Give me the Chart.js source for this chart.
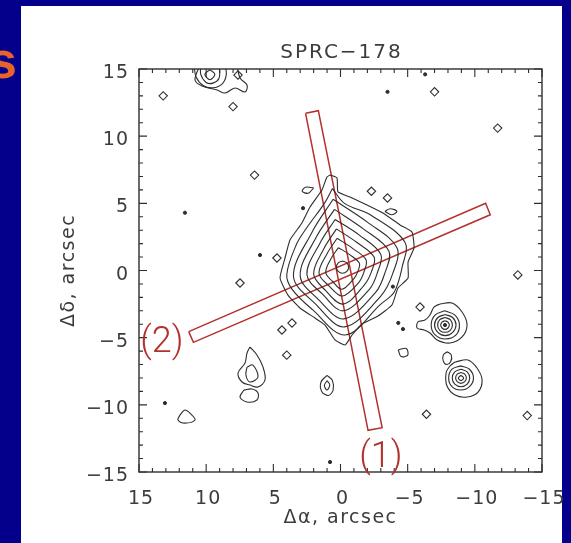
<!DOCTYPE html>
<html>
<head>
<meta charset="utf-8">
<script src="https://cdn.jsdelivr.net/npm/chart.js@4.4.0/dist/chart.umd.min.js"></script>
<style>
  html, body { margin: 0; padding: 0; width: 571px; height: 543px; overflow: hidden; background: #04008c; }
  canvas { position: absolute; left: 0; top: 0; }
</style>
</head>
<body>
<canvas id="c" width="571" height="543"></canvas>
<script>
// ticks des deux axes (arcsec)
const xTicks = [15, 10, 5, 0, -5, -10, -15];
const yTicks = [15, 10, 5, 0, -5, -10, -15];
const tickLabels = ['15', '10', '5', '0', '\u22125', '\u221210', '\u221215'];

// isophotes de la galaxie principale (Δα, Δδ), de l'extérieur vers le centre
const galaxy1 = [[0.78,7.11],[0.26,6.89],[0.19,5.85],[-0.71,5.47],[-1.97,4.88],[-3.16,4.28],[-4.43,3.39],[-5.32,2.87],[-5.47,1.68],[-5.03,0.63],[-5.03,-0.56],[-4.28,-1.30],[-3.83,-2.57],[-2.79,-3.39],[-1.60,-3.98],[-0.86,-4.80],[-0.34,-5.55],[0.41,-5.17],[1.15,-4.06],[1.90,-3.54],[3.02,-2.79],[3.91,-1.83],[4.50,-0.56],[4.13,0.93],[3.76,2.27],[2.87,3.54],[2.27,4.73],[1.38,5.99],[1.01,6.96],[0.78,7.11]];
const galaxy2 = [[0.6,6.1],[-0.3,5.0],[-2.3,4.1],[-4.8,2.1],[-4.6,0.3],[-4.0,-1.6],[-3.0,-2.5],[-0.35,-4.8],[2.1,-2.9],[3.6,-1.4],[4.0,-0.3],[3.3,1.9],[2.5,3.2],[1.2,5.0],[0.6,6.1]];
const galaxy3 = [[0.55,5.3],[-2.0,3.6],[-4.2,1.7],[-3.9,-0.2],[-3.0,-1.9],[-0.3,-4.2],[1.85,-2.5],[3.5,-0.45],[2.15,2.8],[0.55,5.3]];
const galaxy4 = [[0.45,4.55],[-1.7,3.1],[-3.6,1.45],[-3.3,-0.2],[-2.6,-1.65],[-0.25,-3.6],[1.6,-2.2],[3.0,-0.4],[1.85,2.4],[0.45,4.55]];
const galaxy5 = [[0.4,3.8],[-1.45,2.6],[-3.0,1.2],[-2.75,-0.15],[-2.15,-1.4],[-0.2,-3.0],[1.3,-1.8],[2.5,-0.3],[1.55,2.0],[0.4,3.8]];
const galaxy6 = [[0.3,3.1],[-1.2,2.1],[-2.5,1.0],[-2.3,-0.1],[-1.75,-1.1],[-0.2,-2.5],[1.1,-1.5],[2.0,-0.25],[1.25,1.6],[0.3,3.1]];
const galaxy7 = [[0.25,2.4],[-0.9,1.65],[-1.9,0.8],[-1.75,-0.1],[-1.35,-0.9],[-0.15,-1.9],[0.85,-1.15],[1.6,-0.2],[1.0,1.25],[0.25,2.4]];
const galaxy8 = [[0.15,1.7],[-0.65,1.2],[-1.4,0.55],[-1.3,-0.05],[-1.0,-0.6],[-0.1,-1.4],[0.6,-0.8],[1.1,-0.15],[0.7,0.9],[0.15,1.7]];
const galaxyCore = [[-0.15,0.7],[-0.47,0.57],[-0.6,0.25],[-0.47,-0.07],[-0.15,-0.2],[0.17,-0.07],[0.3,0.25],[0.17,0.57],[-0.15,0.7]];
const galaxyKnot = [[2.0,6.15],[2.6,6.2],[2.85,5.9],[2.4,5.75],[2.0,6.15]];

// compagnon A (Δα≈-7.8, Δδ≈-4.1)
const compA1 = [[-7.41,-2.49],[-8.30,-2.42],[-9.05,-3.09],[-9.42,-4.06],[-9.05,-4.95],[-8.15,-5.40],[-7.19,-5.17],[-6.66,-4.65],[-6.22,-4.43],[-5.70,-4.28],[-5.77,-3.83],[-6.29,-3.69],[-6.66,-3.31],[-6.96,-2.72],[-7.41,-2.49]];
const compA2 = [[-7.75,-3.0],[-8.5,-3.3],[-8.85,-4.0],[-8.6,-4.8],[-7.8,-5.1],[-7.05,-4.8],[-6.75,-4.05],[-7.05,-3.3],[-7.75,-3.0]];
const compA3 = [[-7.8,-3.28],[-8.35,-3.5],[-8.6,-4.05],[-8.35,-4.6],[-7.8,-4.85],[-7.25,-4.6],[-7.0,-4.05],[-7.25,-3.5],[-7.8,-3.28]];
const compA4 = [[-7.78,-3.5],[-8.17,-3.66],[-8.33,-4.06],[-8.17,-4.45],[-7.78,-4.6],[-7.39,-4.45],[-7.23,-4.06],[-7.39,-3.66],[-7.78,-3.5]];
const compA5 = [[-7.78,-3.74],[-8.0,-3.84],[-8.1,-4.06],[-8.0,-4.28],[-7.78,-4.38],[-7.56,-4.28],[-7.46,-4.06],[-7.56,-3.84],[-7.78,-3.74]];

// compagnon B (Δα≈-9.0, Δδ≈-8.0)
const compB1 = [[-8.53,-6.81],[-9.49,-6.66],[-10.16,-7.26],[-10.54,-8.15],[-10.24,-9.05],[-9.42,-9.42],[-8.53,-9.27],[-7.93,-8.60],[-7.86,-7.63],[-8.15,-7.11],[-8.53,-6.81]];
const compB2 = [[-8.95,-7.1],[-9.6,-7.35],[-9.9,-8.0],[-9.6,-8.65],[-8.95,-8.9],[-8.3,-8.65],[-8.05,-8.0],[-8.3,-7.35],[-8.95,-7.1]];
const compB3 = [[-8.97,-7.35],[-9.43,-7.54],[-9.62,-8.0],[-9.43,-8.46],[-8.97,-8.65],[-8.51,-8.46],[-8.32,-8.0],[-8.51,-7.54],[-8.97,-7.35]];
const compB4 = [[-8.97,-7.6],[-9.25,-7.72],[-9.37,-8.0],[-9.25,-8.28],[-8.97,-8.4],[-8.69,-8.28],[-8.57,-8.0],[-8.69,-7.72],[-8.97,-7.6]];
const compB5 = [[-8.97,-7.8],[-9.17,-8.0],[-8.97,-8.2],[-8.77,-8.0],[-8.97,-7.8]];
const compBTear = [[-7.95,-6.05],[-8.25,-6.3],[-8.2,-6.8],[-7.9,-7.0],[-7.65,-6.75],[-7.65,-6.3],[-7.95,-6.05]];

// source coupée par le bord supérieur
const topBlob1 = [[10.46,15.3],[10.83,14.18],[10.31,13.74],[9.19,13.44],[8.60,13.21],[7.85,13.59],[7.11,13.29],[6.96,13.81],[7.48,14.33],[7.71,15.3]];
const topBlob2 = [[10.9,15.3],[10.75,14.4],[10.2,13.75],[9.5,13.6],[8.8,13.9],[8.5,14.6],[8.6,15.3]];
const topBlob3 = [[10.4,15.3],[10.4,14.6],[10.0,14.0],[9.5,13.95],[9.05,14.3],[9.0,15.0],[9.1,15.3]];
const topBlob4 = [[9.72,14.95],[10.1,14.6],[9.72,14.2],[9.35,14.6],[9.72,14.95]];

// petites sources isolées
const blobC1 = [[6.74,-5.70],[6.22,-6.29],[5.77,-7.18],[5.62,-8.15],[6.14,-8.67],[6.74,-8.53],[7.33,-8.30],[7.63,-7.63],[7.11,-6.89],[6.96,-6.14],[6.74,-5.70]];
const blobC2 = [[6.96,-7.18],[6.52,-7.04],[6.14,-7.93],[6.74,-8.30],[7.04,-7.78],[6.96,-7.18]];
const blobC3 = [[7.19,-8.90],[6.59,-8.82],[6.14,-9.12],[6.22,-9.64],[6.96,-9.79],[7.48,-9.42],[7.19,-8.90]];
const blobD = [[11.95,-10.76],[11.58,-10.39],[11.06,-10.76],[10.83,-11.13],[11.58,-11.36],[12.10,-11.13],[11.95,-10.76]];
const blobE1 = [[1.0,-7.8],[0.6,-8.2],[0.55,-8.9],[0.9,-9.3],[1.4,-9.0],[1.45,-8.3],[1.0,-7.8]];
const blobE2 = [[1.0,-8.2],[0.8,-8.5],[1.0,-8.9],[1.2,-8.55],[1.0,-8.2]];
const blobF = [[-4.3,-5.9],[-4.9,-5.8],[-5.0,-6.3],[-4.5,-6.4],[-4.3,-5.9]];
const blobG = [[-3.3,4.4],[-3.7,4.6],[-4.2,4.4],[-3.8,4.15],[-3.3,4.4]];

const diamonds = [[13.2,13.0],[8.0,12.2],[7.63,14.55],[-7.0,13.3],[-11.7,10.6],[6.4,7.1],[-2.3,5.9],[-3.5,5.4],[4.73,0.93],[-5.92,-2.72],[3.61,-3.91],[4.36,-4.43],[7.48,-0.93],[-13.2,-0.33],[-6.4,-10.7],[-13.9,-10.8],[4.0,-6.3]];
const dots = [[-3.5,13.3],[-6.3,14.6],[2.79,4.64],[5.99,1.15],[-3.9,-1.2],[-4.3,-3.9],[-4.65,-4.36],[13.07,-9.87],[11.58,4.3],[0.78,-14.26],[-7.78,-4.06]];

// fentes (coins)
const slit1 = [[2.6,11.7],[1.65,11.9],[-3.1,-11.7],[-2.05,-11.9],[2.6,11.7]];
const slit2 = [[11.3,-4.55],[-10.8,5.0],[-11.15,4.15],[10.95,-5.35],[11.3,-4.55]];
const slitLabels = [['(1)', -3.0, -13.97], ['(2)', 13.29, -5.4]];

const contours = [galaxy1, galaxy2, galaxy3, galaxy4, galaxy5, galaxy6, galaxy7, galaxy8, galaxyCore, galaxyKnot,
  compA1, compA2, compA3, compA4, compA5, compB1, compB2, compB3, compB4, compB5, compBTear,
  topBlob1, topBlob2, topBlob3, topBlob4, blobC1, blobC2, blobC3, blobD, blobE1, blobE2, blobF, blobG];

const pts = arr => arr.map(([x, y]) => ({ x, y }));
const INK = '#2e2e2e';
const RED = '#b3302c';
const FONT = '"DejaVu Sans", "Liberation Sans", sans-serif';

const datasets = contours.map((c, i) => ({
  data: pts(c), showLine: true, pointRadius: 0, borderColor: INK,
  borderWidth: 1.1, tension: i === 0 ? 0.15 : 0.35, fill: false
}));
datasets.push({ data: pts(diamonds), showLine: false, pointStyle: 'rectRot', pointRadius: 4.2,
  borderColor: INK, backgroundColor: 'rgba(0,0,0,0)', pointBorderWidth: 1.1 });
datasets.push({ data: pts(dots), showLine: false, pointStyle: 'circle', pointRadius: 1.6,
  borderColor: INK, backgroundColor: INK });
[slit1, slit2].forEach(s => datasets.push({ data: pts(s), showLine: true, pointRadius: 0,
  borderColor: RED, borderWidth: 1.5, tension: 0, fill: false }));

function txt(ctx, s, x, y, align, spacing) {
  ctx.letterSpacing = (spacing || 0) + 'px';
  ctx.textAlign = align;
  ctx.fillText(s, x, y);
  ctx.letterSpacing = '0px';
}

// fond diapo + cadre IDL dessinés à la main
const frame = {
  id: 'frame',
  beforeDraw(chart) {
    const ctx = chart.ctx;
    ctx.save();
    ctx.fillStyle = '#04008c';
    ctx.fillRect(0, 0, chart.width, chart.height);
    ctx.fillStyle = '#ffffff';
    ctx.fillRect(21, 6, 541, 537);
    ctx.fillStyle = '#e8622a';
    ctx.font = 'bold 52px "Liberation Sans", Arial, sans-serif';
    ctx.textBaseline = 'alphabetic';
    txt(ctx, 's', -12, 78, 'left');
    ctx.restore();
  },
  afterDatasetsDraw(chart) {
    const ctx = chart.ctx;
    const xs = chart.scales.x, ys = chart.scales.y;
    const a = chart.chartArea;
    ctx.save();
    ctx.strokeStyle = INK;
    ctx.lineWidth = 1.4;
    ctx.strokeRect(a.left, a.top, a.right - a.left, a.bottom - a.top);
    ctx.lineWidth = 1.1;
    ctx.beginPath();
    for (let v = -15; v <= 15; v++) {
      const len = v % 5 === 0 ? 8 : 4;
      const px = xs.getPixelForValue(v), py = ys.getPixelForValue(v);
      ctx.moveTo(px, a.bottom); ctx.lineTo(px, a.bottom - len);
      ctx.moveTo(px, a.top); ctx.lineTo(px, a.top + len);
      ctx.moveTo(a.left, py); ctx.lineTo(a.left + len, py);
      ctx.moveTo(a.right, py); ctx.lineTo(a.right - len, py);
    }
    ctx.stroke();

    ctx.fillStyle = '#3c3c3c';
    ctx.font = '19px ' + FONT;
    ctx.textBaseline = 'alphabetic';
    xTicks.forEach((v, i) => txt(ctx, tickLabels[i], xs.getPixelForValue(v) + 2, 504, 'center', 1));
    yTicks.forEach((v, i) => txt(ctx, tickLabels[i], 129, ys.getPixelForValue(v) + 9, 'right', 1));

    ctx.font = '20px ' + FONT;
    txt(ctx, 'SPRC\u2212178', (a.left + a.right) / 2 + 1, 58, 'center', 2);
    ctx.font = '19px ' + FONT;
    txt(ctx, '\u0394\u03b1, arcsec', (a.left + a.right) / 2, 523, 'center', 1.5);
    ctx.save();
    ctx.translate(74, (a.top + a.bottom) / 2);
    ctx.rotate(-Math.PI / 2);
    txt(ctx, '\u0394\u03b4, arcsec', 0, 0, 'center', 1.5);
    ctx.restore();

    ctx.fillStyle = RED;
    ctx.font = '300 36px Roboto, ' + FONT;
    ctx.textBaseline = 'middle';
    slitLabels.forEach(([s, x, y]) => txt(ctx, s, xs.getPixelForValue(x), ys.getPixelForValue(y), 'center', 0));
    ctx.restore();
  }
};

new Chart(document.getElementById('c'), {
  type: 'scatter',
  data: { datasets },
  options: {
    responsive: false,
    animation: false,
    events: [],
    layout: { padding: { left: 139, top: 69, right: 29, bottom: 71 } },
    plugins: { legend: { display: false }, tooltip: { enabled: false } },
    scales: {
      x: { type: 'linear', min: -15, max: 15, reverse: true, display: false },
      y: { type: 'linear', min: -15, max: 15, display: false }
    }
  },
  plugins: [frame]
});
</script>
</body>
</html>
